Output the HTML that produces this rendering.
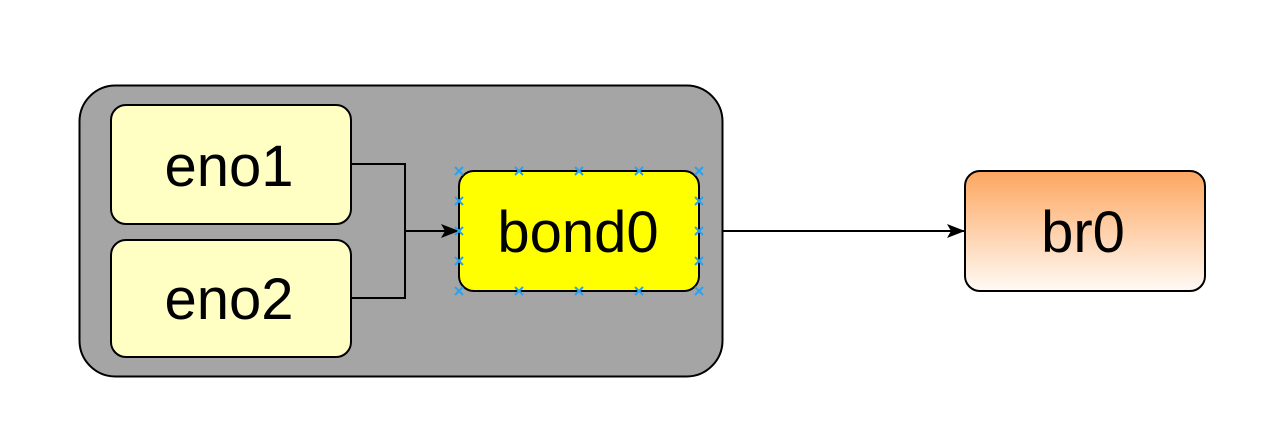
<!DOCTYPE html>
<html><head><meta charset="utf-8"><style>html,body{margin:0;padding:0;background:#fff;}svg{display:block}</style></head>
<body>
<svg width="1274" height="440" viewBox="0 0 1274 440" xmlns="http://www.w3.org/2000/svg" font-family="Liberation Sans, sans-serif">
<defs>
<linearGradient id="g" x1="0" y1="0" x2="0" y2="1"><stop offset="0" stop-color="#fda65f"/><stop offset="1" stop-color="#fffaf5"/></linearGradient>
<marker id="a" markerWidth="18" markerHeight="14" refX="17" refY="7" orient="auto" markerUnits="userSpaceOnUse"><path d="M0,0 L18,7 L0,14 L4,7 Z" fill="#000"/></marker>
</defs>
<rect x="79.5" y="85.5" width="643" height="291" rx="36" fill="#a5a5a5" stroke="#000" stroke-width="2"/>
<rect x="111" y="105" width="240" height="119" rx="15" fill="#ffffc4" stroke="#000" stroke-width="2"/>
<rect x="111" y="240" width="240" height="117" rx="15" fill="#ffffc4" stroke="#000" stroke-width="2"/>
<rect x="459" y="171" width="240" height="120" rx="15" fill="#ffff00" stroke="#000" stroke-width="2"/>
<rect x="965" y="171" width="240" height="120" rx="15" fill="url(#g)" stroke="#000" stroke-width="2"/>
<text x="229" y="186" font-size="58" text-anchor="middle">eno1</text>
<text x="229" y="319" font-size="58" text-anchor="middle">eno2</text>
<text x="578" y="252" font-size="58" text-anchor="middle">bond0</text>
<text x="1083" y="252" font-size="58" text-anchor="middle">br0</text>
<path d="M351,164 H405 V231 H458" fill="none" stroke="#000" stroke-width="2" marker-end="url(#a)"/>
<path d="M351,298 H405 V231" fill="none" stroke="#000" stroke-width="2"/>
<path d="M723,231 H964" fill="none" stroke="#000" stroke-width="2" marker-end="url(#a)"/>
<g stroke="#29a3f0" stroke-width="2">
<path d="M455,167l8,8m0-8l-8,8 M515,167l8,8m0-8l-8,8 M575,167l8,8m0-8l-8,8 M635,167l8,8m0-8l-8,8 M695,167l8,8m0-8l-8,8
M455,287l8,8m0-8l-8,8 M515,287l8,8m0-8l-8,8 M575,287l8,8m0-8l-8,8 M635,287l8,8m0-8l-8,8 M695,287l8,8m0-8l-8,8
M455,197l8,8m0-8l-8,8 M455,227l8,8m0-8l-8,8 M455,257l8,8m0-8l-8,8
M695,197l8,8m0-8l-8,8 M695,227l8,8m0-8l-8,8 M695,257l8,8m0-8l-8,8"/>
</g>
</svg>
</body></html>
